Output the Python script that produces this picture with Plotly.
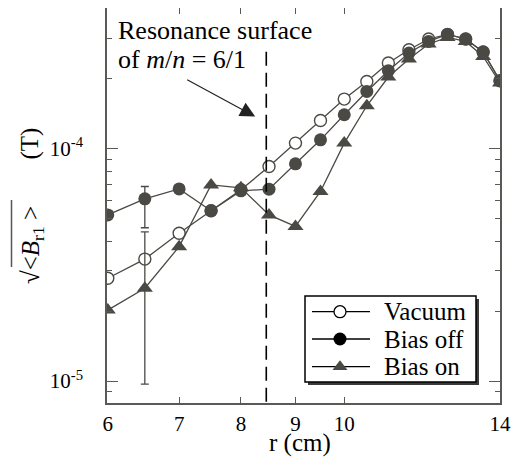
import math
import plotly.graph_objects as go

# ---------------- data ----------------
r_cm = [6, 6.5, 7, 7.5, 8, 8.5, 9, 9.5, 10, 10.5, 11, 11.5, 12, 12.5, 13, 13.5, 14]
vacuum = [2.77e-5, 3.35e-5, 4.33e-5, 5.41e-5, 6.66e-5, 8.39e-5, 1.058e-4, 1.324e-4,
          1.637e-4, 1.950e-4, 2.341e-4, 2.672e-4, 2.971e-4, 3.110e-4, 2.971e-4,
          2.611e-4, 1.964e-4]
bias_off = [5.19e-5, 6.09e-5, 6.72e-5, 5.41e-5, 6.59e-5, 6.70e-5, 8.62e-5, 1.093e-4,
            1.402e-4, 1.766e-4, 2.169e-4, 2.585e-4, 2.900e-4, 3.110e-4, 2.971e-4,
            2.611e-4, 1.964e-4]
bias_on = [2.02e-5, 2.51e-5, 3.79e-5, 6.99e-5, 6.79e-5, 5.19e-5, 4.63e-5, 6.55e-5,
           1.058e-4, 1.532e-4, 2.037e-4, 2.435e-4, 2.827e-4, 3.018e-4, 2.900e-4,
           2.499e-4, 1.92e-4]
# error bars (only at r = 6.5 cm)
bias_off_err_plus = [None, 0.79e-5] + [None] * 15
bias_off_err_minus = [None, 1.52e-5] + [None] * 15
bias_on_err_plus = [None, 1.88e-5] + [None] * 15
bias_on_err_minus = [None, 1.54e-5] + [None] * 15

series_names = ["Vacuum", "Bias off", "Bias on"]
x_tick_vals = [6, 7, 8, 9, 10, 14]
x_tick_text = ["6", "7", "8", "9", "10", "14"]
y_tick_vals = [1e-5, 1e-4]
y_tick_text = ["10<sup>-5</sup>", "10<sup>-4</sup>"]
y_minor_vals = [8e-6, 9e-6, 2e-5, 3e-5, 4e-5, 5e-5, 6e-5, 7e-5, 8e-5, 9e-5, 2e-4, 3e-4]

r_resonance = 8.45          # resonance surface m/n = 6/1
res_line_top = 2.62e-4
arrow_tail = (7.10, 2.00e-4)
arrow_tip = (8.25, 1.377e-4)

# ---------------- style ----------------
PAGE_OFF = 8                 # default page margin of the html body
W, H = 521 - PAGE_OFF, 468 - PAGE_OFF
PL, PT, PR, PB = 107, 8, 500, 403          # plot area in window pixels
PW, PH = PR - PL, PB - PT
ML, MT = PL - PAGE_OFF, PT - PAGE_OFF
MR, MB = W - ML - PW, H - MT - PH
GRAY = "#4a4944"
AXC = "#5a5955"
FONT = "Liberation Serif"


def px2x(px):
    return (px - PL) / PW


def py2y(py):
    return (PB - py) / PH


fig = go.Figure()

line_style = dict(color=GRAY, width=1.3)
fig.add_trace(go.Scatter(
    x=r_cm, y=vacuum, name=series_names[0], mode="lines+markers",
    line=line_style,
    marker=dict(symbol="circle", size=12, color="white", line=dict(color=GRAY, width=1.4)),
))
fig.add_trace(go.Scatter(
    x=r_cm, y=bias_off, name=series_names[1], mode="lines+markers",
    line=line_style,
    marker=dict(symbol="circle", size=13, color=GRAY, line=dict(color=GRAY, width=0)),
    error_y=dict(type="data", symmetric=False, array=bias_off_err_plus,
                 arrayminus=bias_off_err_minus, color=GRAY, thickness=1.3, width=4),
))
fig.add_trace(go.Scatter(
    x=r_cm, y=bias_on, name=series_names[2], mode="lines+markers",
    line=line_style,
    marker=dict(symbol="triangle-up", size=14, color=GRAY, line=dict(color=GRAY, width=0)),
    error_y=dict(type="data", symmetric=False, array=bias_on_err_plus,
                 arrayminus=bias_on_err_minus, color=GRAY, thickness=1.3, width=4),
))

# resonance surface dashed line
fig.add_trace(go.Scatter(
    x=[r_resonance, r_resonance], y=[res_line_top, 8.04e-6], mode="lines",
    line=dict(color="black", width=1.6, dash="14px,7px"), showlegend=False,
    hoverinfo="skip",
))

# arrow
fig.add_annotation(
    x=math.log10(arrow_tip[0]), y=math.log10(arrow_tip[1]), xref="x", yref="y",
    ax=math.log10(arrow_tail[0]), ay=math.log10(arrow_tail[1]), axref="x", ayref="y",
    text="", showarrow=True, arrowhead=2, arrowsize=2.5, arrowwidth=1.2,
    arrowcolor="#222222",
)

# resonance text
fig.add_annotation(x=px2x(116), y=py2y(31), xref="paper", yref="paper",
                   text="Resonance surface", showarrow=False, xanchor="left",
                   yanchor="middle", font=dict(family=FONT, size=26, color="black"))
fig.add_annotation(x=px2x(116), y=py2y(59), xref="paper", yref="paper",
                   text="of <i>m</i>/<i>n</i> = 6/1", showarrow=False, xanchor="left",
                   yanchor="middle", font=dict(family=FONT, size=26, color="black"))

# y axis title
fig.add_annotation(x=px2x(29), y=py2y(143.5), xref="paper", yref="paper",
                   text="(T)", textangle=-90, showarrow=False,
                   xanchor="center", yanchor="middle",
                   font=dict(family=FONT, size=25, color="black"))
fig.add_annotation(x=px2x(32), y=py2y(245), xref="paper", yref="paper",
                   text="√&lt;<i>B</i><sub>r1</sub> &gt;", textangle=-90, showarrow=False,
                   xanchor="center", yanchor="middle",
                   font=dict(family=FONT, size=25, color="black"))
fig.add_shape(type="line", xref="paper", yref="paper",
              x0=px2x(11.5), x1=px2x(11.5), y0=py2y(200), y1=py2y(267),
              line=dict(color="#555555", width=1.5))

# x title
fig.add_annotation(x=px2x(300), y=py2y(443), xref="paper", yref="paper",
                   text="r (cm)", showarrow=False, xanchor="center", yanchor="middle",
                   font=dict(family=FONT, size=25, color="black"))

# ---------------- legend (drawn by hand) ----------------
LX0, LY0, LX1, LY1 = 305, 296, 476, 382
fig.add_shape(type="rect", xref="paper", yref="paper", layer="below",
              x0=px2x(LX0 + 3), x1=px2x(LX1 + 3), y0=py2y(LY0 + 3), y1=py2y(LY1 + 3),
              fillcolor="#3a3a38", line=dict(width=0))
fig.add_shape(type="rect", xref="paper", yref="paper", layer="below",
              x0=px2x(LX0), x1=px2x(LX1), y0=py2y(LY0), y1=py2y(LY1),
              fillcolor="white", line=dict(color="black", width=1.5))
leg_rows = [311.7, 339.0, 366.7]
for yy in leg_rows:
    fig.add_shape(type="line", xref="paper", yref="paper", layer="below",
                  x0=px2x(312), x1=px2x(370), y0=py2y(yy), y1=py2y(yy),
                  line=dict(color="black", width=1.3))
leg_symbols = ["circle", "circle", "triangle-up"]
leg_fill = ["white", "black", GRAY]
leg_size = [12, 13, 13]
for i, name in enumerate(series_names):
    fig.add_trace(go.Scatter(
        x=[px2x(340)], y=[py2y(leg_rows[i])], xaxis="x2", yaxis="y2",
        mode="markers", showlegend=False, hoverinfo="skip",
        marker=dict(symbol=leg_symbols[i], size=leg_size[i], color=leg_fill[i],
                    line=dict(color="black", width=1.3 if i == 0 else 0)),
    ))
    fig.add_annotation(x=px2x(382), y=py2y(leg_rows[i]), xref="paper", yref="paper",
                       text=name, showarrow=False, xanchor="left", yanchor="middle",
                       font=dict(family=FONT, size=25, color="black"))

fig.update_layout(
    width=W, height=H, margin=dict(l=ML, r=MR, t=MT, b=MB, autoexpand=False),
    paper_bgcolor="white", plot_bgcolor="white",
    font=dict(family=FONT, size=21, color="black"),
    showlegend=False,
    xaxis=dict(
        type="log", range=[math.log10(5.99), math.log10(14.0)],
        tickmode="array", tickvals=x_tick_vals, ticktext=x_tick_text,
        ticks="inside", ticklen=6, tickwidth=1.3, tickcolor=AXC,
        showline=True, linecolor=AXC, linewidth=1.6, mirror="ticks",
        showgrid=False, zeroline=False,
        tickfont=dict(family=FONT, size=21, color="black"), ticklabelstandoff=1,
    ),
    yaxis=dict(
        type="log", range=[math.log10(8.04e-6), math.log10(4.04e-4)],
        tickmode="array", tickvals=y_tick_vals, ticktext=y_tick_text,
        ticks="inside", ticklen=11, tickwidth=1.3, tickcolor=AXC,
        minor=dict(tickmode="array", tickvals=y_minor_vals, ticks="inside", ticklen=5,
                   tickwidth=1.3, tickcolor=AXC, showgrid=False),
        showline=True, linecolor=AXC, linewidth=1.6, mirror="ticks",
        showgrid=False, zeroline=False,
        tickfont=dict(family=FONT, size=21, color="black"), ticklabelstandoff=18,
    ),
    xaxis2=dict(overlaying="x", range=[0, 1], visible=False, fixedrange=True),
    yaxis2=dict(overlaying="y", range=[0, 1], visible=False, fixedrange=True),
)

fig.write_html("out.html")
